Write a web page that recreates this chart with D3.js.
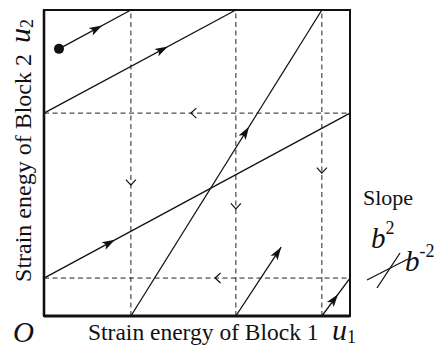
<!DOCTYPE html>
<html>
<head>
<meta charset="utf-8">
<script src="https://cdn.jsdelivr.net/npm/d3@7"></script>
<style>
  html, body { margin: 0; padding: 0; background: #fff; }
  svg { display: block; }
  text { font-family: "Liberation Serif", "DejaVu Serif", serif; fill: #111; }
</style>
</head>
<body>
<svg id="chart" width="442" height="348"></svg>
<script>
// ---- data (unit square: u1 horizontal, u2 vertical) ----
const dashedX = [0.284, 0.627, 0.908];          // vertical dashed lines
const dashedY = [0.124, 0.663];                 // horizontal dashed lines
// solid trajectory segments [x0, y0, x1, y1]
const shallowSegs = [
  [0.000, 0.124, 1.000, 0.663],
  [0.000, 0.663, 0.627, 1.000],
  [0.049, 0.873, 0.284, 1.000]
];
const steepSegs = [
  [0.284, 0.000, 0.908, 1.000],
  [0.627, 0.000, 0.775, 0.225],
  [0.908, 0.000, 1.000, 0.124]
];
// filled arrow heads: [segment group, index, tip x]
const arrowTips = [
  ["shallow", 2, 0.190],
  ["shallow", 1, 0.405],
  ["shallow", 0, 0.232],
  ["steep", 0, 0.670],
  ["steep", 1, 0.775],
  ["steep", 2, 0.961]
];
// open chevrons on dashed lines: [x, y, direction]
const chevrons = [
  [0.480, 0.663, "left"],
  [0.559, 0.124, "left"],
  [0.284, 0.428, "down"],
  [0.627, 0.350, "down"],
  [0.908, 0.467, "down"]
];
const startPoint = [0.049, 0.873];
const xLabel = "Strain energy of Block 1";
const yLabel = "Strain enegy of Block 2";
const legendTitle = "Slope";

// ---- layout ----
const svg = d3.select("#chart");
const x = d3.scaleLinear().domain([0, 1]).range([44, 350]);
const y = d3.scaleLinear().domain([0, 1]).range([316, 10]);

const g = svg.append("g");

// dashed lines
g.selectAll("line.vd").data(dashedX).enter().append("line")
  .attr("x1", d => x(d)).attr("x2", d => x(d))
  .attr("y1", y(0)).attr("y2", y(1))
  .attr("stroke", "#222").attr("stroke-width", 1).attr("stroke-dasharray", "5,3.5");
g.selectAll("line.hd").data(dashedY).enter().append("line")
  .attr("y1", d => y(d)).attr("y2", d => y(d))
  .attr("x1", x(0)).attr("x2", x(1))
  .attr("stroke", "#222").attr("stroke-width", 1).attr("stroke-dasharray", "5,3.5");

// chevrons
const chevAngle = { left: 180, down: 90, right: 0, up: -90 };
g.selectAll("path.chev").data(chevrons).enter().append("path")
  .attr("d", "M-5.5,-5 L0,0 L-5.5,5")
  .attr("transform", d => `translate(${x(d[0])},${y(d[1])}) rotate(${chevAngle[d[2]]})`)
  .attr("fill", "none").attr("stroke", "#111").attr("stroke-width", 1.2);

// solid segments
const allSegs = { shallow: shallowSegs, steep: steepSegs };
g.selectAll("line.sol").data(shallowSegs.concat(steepSegs)).enter().append("line")
  .attr("x1", d => x(d[0])).attr("y1", d => y(d[1]))
  .attr("x2", d => x(d[2])).attr("y2", d => y(d[3]))
  .attr("stroke", "#111").attr("stroke-width", 1.3);

// arrow heads
g.selectAll("path.arr").data(arrowTips).enter().append("path")
  .attr("d", "M0,0 L-13,-4.2 L-10,0 L-13,4.2 Z")
  .attr("fill", "#111")
  .attr("transform", d => {
    const s = allSegs[d[0]][d[1]];
    const slope = (s[3] - s[1]) / (s[2] - s[0]);
    const ty = s[1] + slope * (d[2] - s[0]);
    const ang = Math.atan2(y(s[3]) - y(s[1]), x(s[2]) - x(s[0])) * 180 / Math.PI;
    return `translate(${x(d[2])},${y(ty)}) rotate(${ang})`;
  });

// starting point
g.append("circle").attr("cx", x(startPoint[0])).attr("cy", y(startPoint[1]))
  .attr("r", 5).attr("fill", "#111");

// frame
g.append("rect").attr("x", x(0)).attr("y", y(1))
  .attr("width", x(1) - x(0)).attr("height", y(0) - y(1))
  .attr("fill", "none").attr("stroke", "#111").attr("stroke-width", 2);
g.append("line").attr("x1", x(0)).attr("x2", x(1)).attr("y1", y(0)).attr("y2", y(0))
  .attr("stroke", "#111").attr("stroke-width", 3);
g.append("line").attr("x1", x(0)).attr("x2", x(0)).attr("y1", y(0)).attr("y2", y(1))
  .attr("stroke", "#111").attr("stroke-width", 2.6);

// axis labels
svg.append("text").attr("x", 88).attr("y", 340)
  .style("font-size", "23.5px").text(xLabel);
svg.append("text").attr("transform", "translate(31,168) rotate(-90)")
  .attr("text-anchor", "middle").style("font-size", "24px").text(yLabel);

// origin
svg.append("text").attr("x", 13).attr("y", 342)
  .style("font-size", "29px").style("font-style", "italic").text("O");

// u1
const u1 = svg.append("text").attr("x", 332).attr("y", 340);
u1.append("tspan").style("font-size", "30px").style("font-style", "italic").text("u");
u1.append("tspan").attr("dy", 3).style("font-size", "18px").text("1");

// u2 (rotated)
const u2 = svg.append("text").attr("transform", "translate(30,43) rotate(-90)");
u2.append("tspan").style("font-size", "30px").style("font-style", "italic").text("u");
u2.append("tspan").attr("dy", 3).style("font-size", "18px").text("2");

// legend
svg.append("text").attr("x", 363).attr("y", 205).style("font-size", "22px").text(legendTitle);
const b2 = svg.append("text").attr("x", 371).attr("y", 248);
b2.append("tspan").style("font-size", "29px").style("font-style", "italic").text("b");
b2.append("tspan").attr("dy", -14).style("font-size", "18px").text("2");
const bm2 = svg.append("text").attr("x", 405).attr("y", 271);
bm2.append("tspan").style("font-size", "29px").style("font-style", "italic").text("b");
bm2.append("tspan").attr("dy", -14).style("font-size", "18px").text("-2");
svg.append("line").attr("x1", 367).attr("y1", 280).attr("x2", 408).attr("y2", 259)
  .attr("stroke", "#111").attr("stroke-width", 1.3);
svg.append("line").attr("x1", 377).attr("y1", 288).attr("x2", 400).attr("y2", 253)
  .attr("stroke", "#111").attr("stroke-width", 1.3);
</script>
</body>
</html>
